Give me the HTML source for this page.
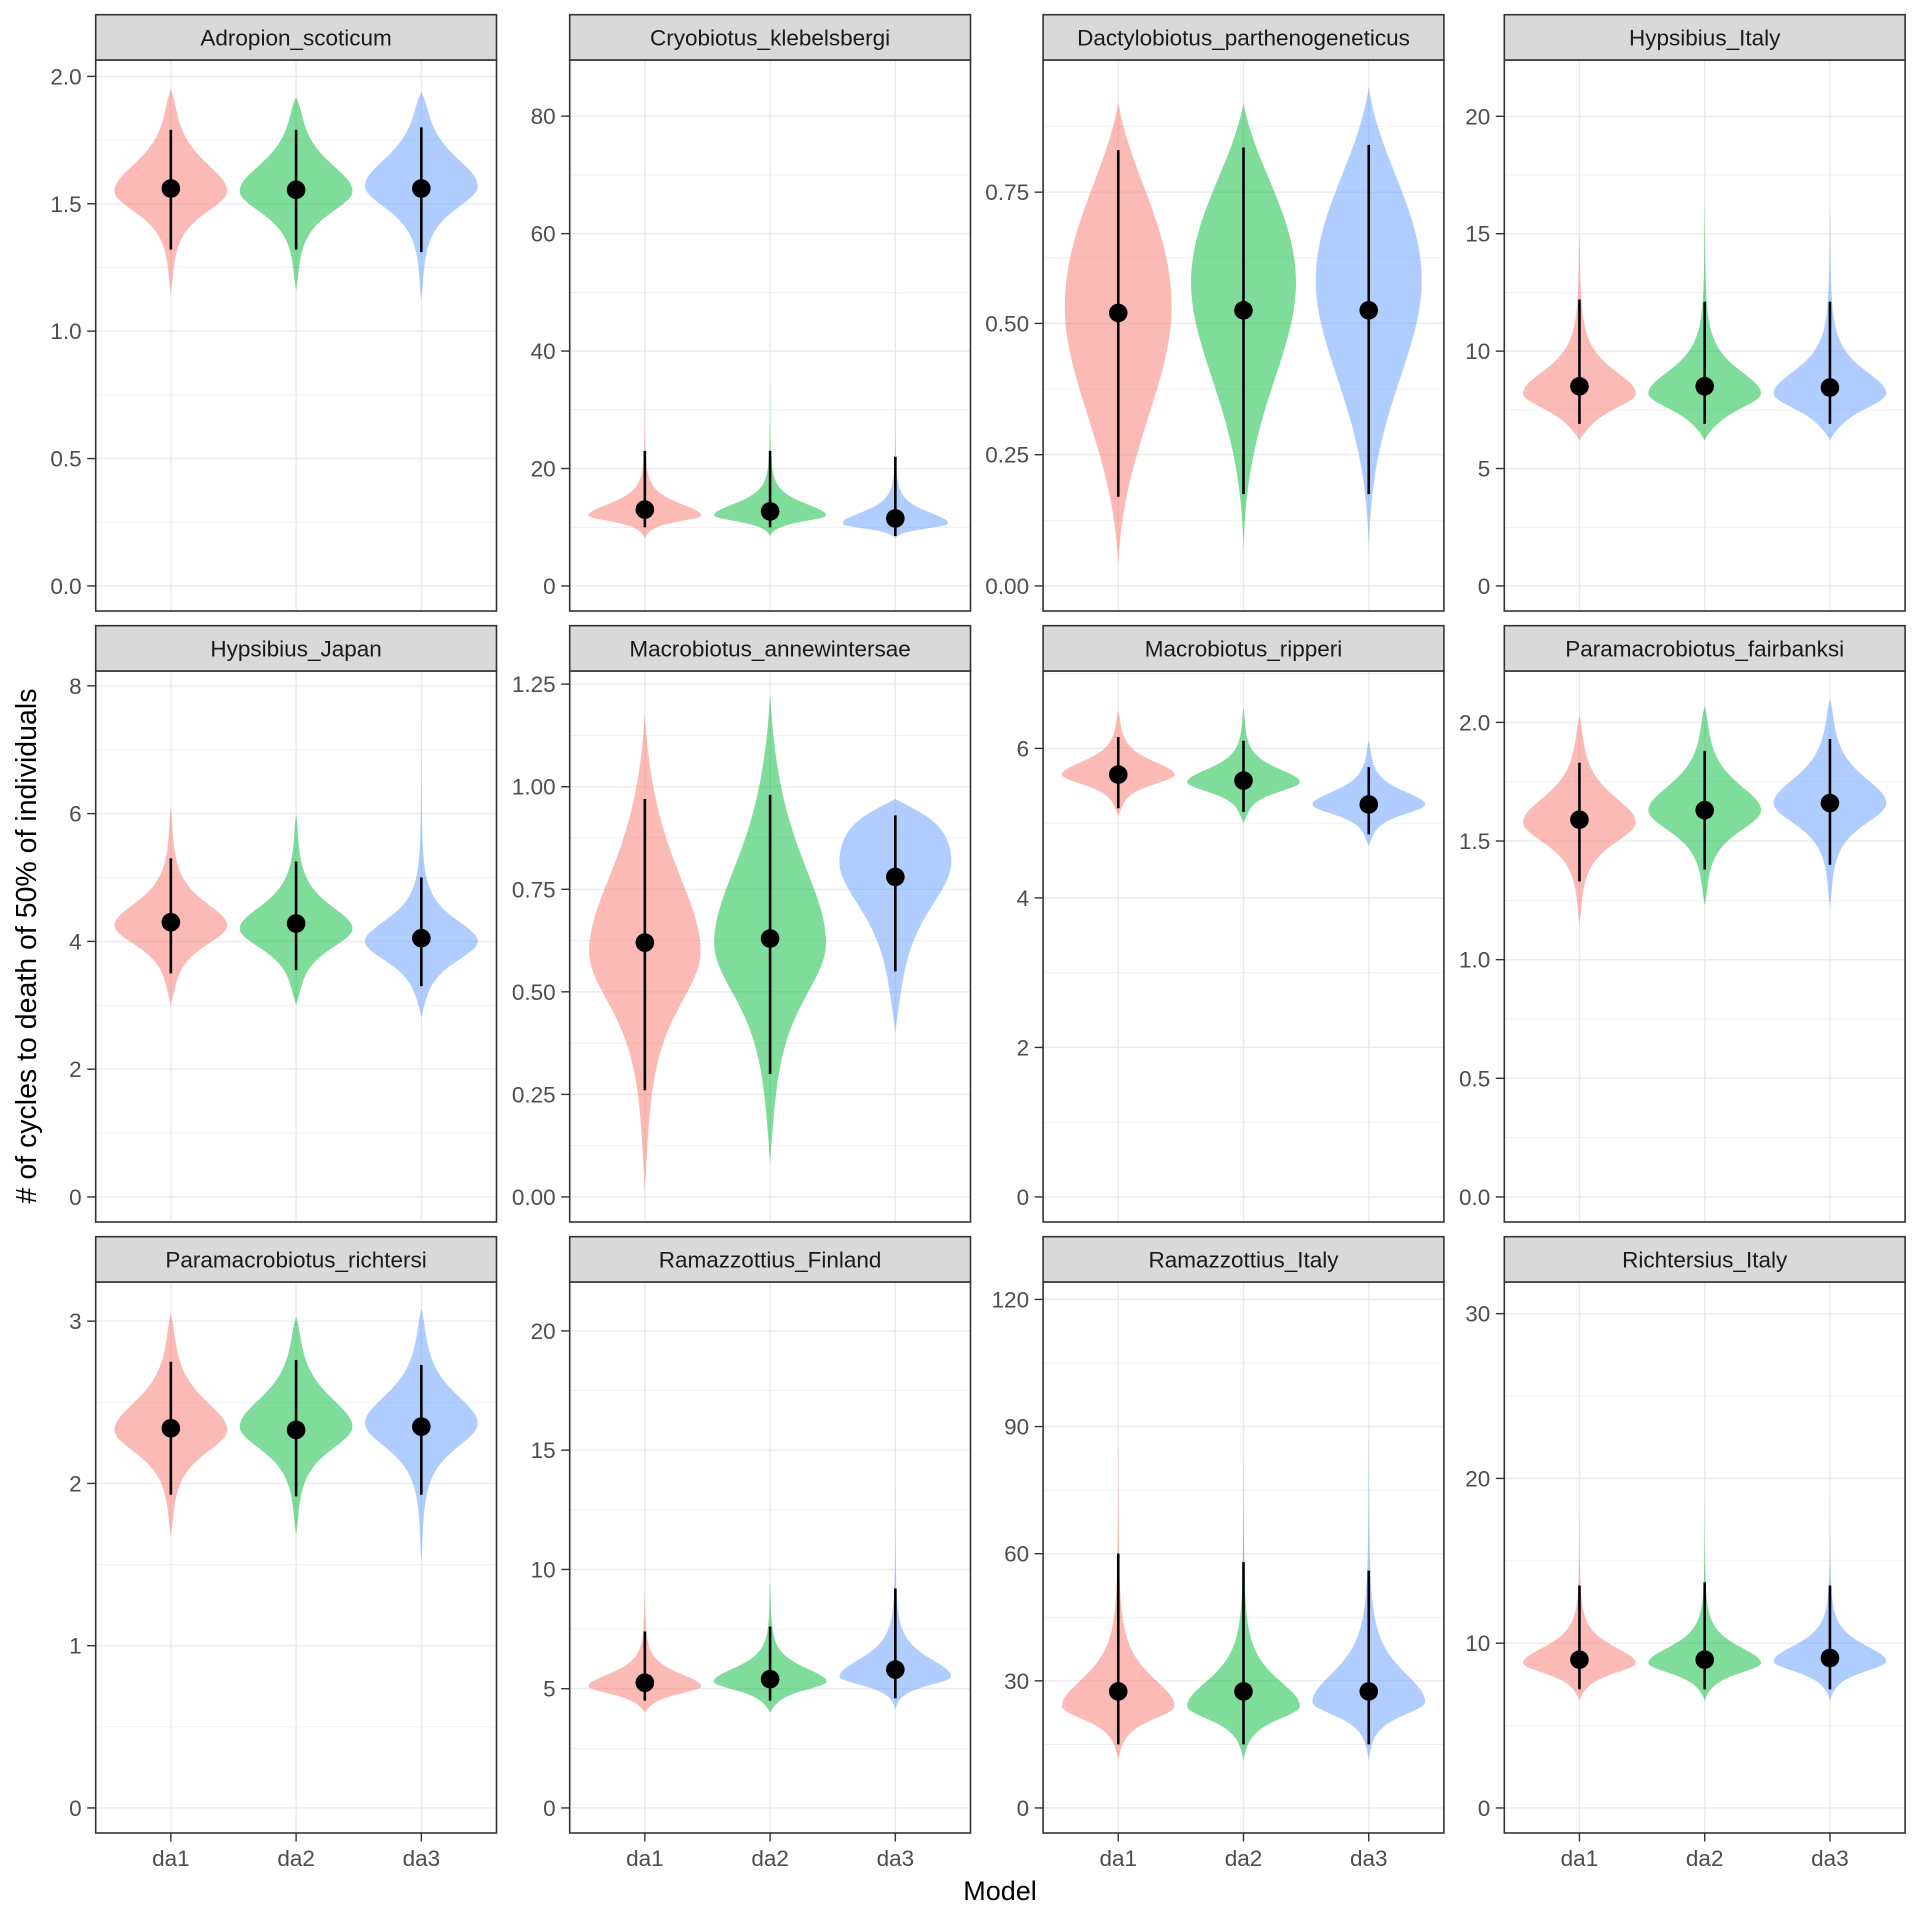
<!DOCTYPE html>
<html><head><meta charset="utf-8"><style>
html,body{margin:0;padding:0;background:#fff}
svg{display:block}
text{font-family:"Liberation Sans",Arial,sans-serif}
</style></head><body>
<svg id="s" width="1920" height="1920" xmlns="http://www.w3.org/2000/svg">
<rect width="1920" height="1920" fill="#fff"/>
<text x="1000" y="1900" font-size="27" text-anchor="middle" fill="#000">Model</text>
<text transform="translate(36,946) rotate(-90)" font-size="28.5" text-anchor="middle" fill="#000"># of cycles to death of 50% of individuals</text>
</svg>
<script>
var NS="http://www.w3.org/2000/svg",S=document.getElementById('s');
function el(t,a,txt){var e=document.createElementNS(NS,t);for(var k in a)e.setAttribute(k,a[k]);if(txt!==undefined)e.textContent=txt;S.appendChild(e);return e;}
var colsX=[95.7,569.7,1043.1,1504.3],W=400.8,H=551,rowsT=[60,671,1282],stripH=45.3,FS=22.5;
var fills=["#F8766D","#00BA38","#619CFF"];
var P=[
["Adropion_scoticum",1.966,[0,0.5,1,1.5,2],["0.0","0.5","1.0","1.5","2.0"],[[1.55,1.15,1.95,0.095,0.125,1.56,1.32,1.79],[1.55,1.16,1.92,0.095,0.12,1.555,1.32,1.79],[1.57,1.12,1.94,0.1,0.125,1.56,1.31,1.8]]],
["Cryobiotus_klebelsbergi",85.3,[0,20,40,60,80],["0","20","40","60","80"],[[12,8,32,1.1,2.3,13,10,23],[12,8.5,35,1.1,2.3,12.7,10,23],[10.5,8,42,0.9,2.2,11.5,8.5,22]]],
["Dactylobiotus_parthenogeneticus",0.954,[0,0.25,0.5,0.75],["0.00","0.25","0.50","0.75"],[[0.55,0.04,0.92,0.22,0.25,0.52,0.17,0.83,20,0.25,0.3],[0.6,0.07,0.92,0.2,0.22,0.525,0.175,0.835,20,0.25,0.3],[0.6,0.07,0.95,0.2,0.22,0.525,0.175,0.84,20,0.25,0.3]]],
["Hypsibius_Italy",21.33,[0,5,10,15,20],["0","5","10","15","20"],[[8.2,6.2,15,0.75,1.1,8.5,6.9,12.2],[8.2,6.2,16.3,0.75,1.1,8.5,6.9,12.1],[8.2,6.2,16.3,0.75,1.1,8.45,6.9,12.1]]],
["Hypsibius_Japan",7.84,[0,2,4,6,8],["0","2","4","6","8"],[[4.25,3.0,6.1,0.35,0.4,4.3,3.5,5.3],[4.2,3.0,6.0,0.35,0.4,4.28,3.55,5.25],[4.0,2.8,7.5,0.35,0.38,4.05,3.3,5.0]]],
["Macrobiotus_annewintersae",1.221,[0,0.25,0.5,0.75,1,1.25],["0.00","0.25","0.50","0.75","1.00","1.25"],[[0.6,0.01,1.18,0.15,0.22,0.62,0.26,0.97,3,0.1,0.25],[0.62,0.08,1.23,0.15,0.22,0.63,0.3,0.98,3,0.1,0.25],[0.82,0.4,0.97,0.13,0.2,0.78,0.55,0.93,3,0.15,0.12]]],
["Macrobiotus_ripperi",6.70,[0,2,4,6],["0","2","4","6"],[[5.65,5.1,6.5,0.15,0.2,5.65,5.2,6.15],[5.55,5.0,6.55,0.15,0.2,5.57,5.15,6.1],[5.25,4.7,6.1,0.15,0.2,5.25,4.85,5.75]]],
["Paramacrobiotus_fairbanksi",2.111,[0,0.5,1,1.5,2],["0.0","0.5","1.0","1.5","2.0"],[[1.58,1.15,2.03,0.1,0.12,1.59,1.33,1.83],[1.63,1.23,2.07,0.1,0.12,1.63,1.38,1.88],[1.66,1.22,2.1,0.1,0.12,1.66,1.4,1.93]]],
["Paramacrobiotus_richtersi",3.087,[0,1,2,3],["0","1","2","3"],[[2.33,1.68,3.05,0.16,0.2,2.34,1.93,2.75],[2.35,1.68,3.03,0.16,0.2,2.33,1.92,2.76],[2.37,1.52,3.08,0.17,0.2,2.35,1.93,2.73]]],
["Ramazzottius_Finland",21.0,[0,5,10,15,20],["0","5","10","15","20"],[[5.1,4.0,9.2,0.35,0.6,5.25,4.5,7.4],[5.3,4.0,9.5,0.4,0.65,5.4,4.5,7.6],[5.5,4.1,15.8,0.4,0.85,5.8,4.6,9.2]]],
["Ramazzottius_Italy",118.2,[0,30,60,90,120],["0","30","60","90","120"],[[24,11,88,3.5,7.5,27.5,15,60],[24,11,83,3.5,7,27.5,15,58],[25,11,88,3.5,8,27.5,15,56]]],
["Richtersius_Italy",30.4,[0,10,20,30],["0","10","20","30"],[[8.8,6.5,18,0.7,1.1,9,7.2,13.5],[8.8,6.5,19,0.7,1.1,9,7.2,13.7],[8.9,6.5,20,0.7,1.1,9.1,7.2,13.5]]]
];
P.forEach(function(p,i){
  var c=i%4,r=Math.floor(i/4),x0=colsX[c],y0=rowsT[r],M=p[1];
  var zero=y0+H-25.05,sc=(H-50.1)/M;
  function Y(v){return zero-v*sc;}
  var step=W/3.2;function X(k){return x0+step*(0.6+k);}
  var t=p[2],d=t[1]-t[0];
  for(var j=-1;j<t.length;j++){
    var yy=Y(t[0]+d*(j+0.5));
    if(yy>y0&&yy<y0+H)el('line',{x1:x0,x2:x0+W,y1:yy,y2:yy,stroke:'#EBEBEB','stroke-width':0.7});
  }
  t.forEach(function(v,j){var yy=Y(v);
    el('line',{x1:x0,x2:x0+W,y1:yy,y2:yy,stroke:'#EBEBEB','stroke-width':1.4});
    el('line',{x1:x0-8.5,x2:x0,y1:yy,y2:yy,stroke:'#333','stroke-width':1.4});
    el('text',{x:x0-14,y:yy+8,'font-size':FS,'text-anchor':'end',fill:'#4D4D4D'},p[3][j]);
  });
  for(var k=0;k<3;k++)el('line',{x1:X(k),x2:X(k),y1:y0,y2:y0+H,stroke:'#EBEBEB','stroke-width':1.4});
  p[4].forEach(function(v,k){
    var m=v[0],lo=v[1],hi=v[2],sL=v[3],sU=v[4],nu=v[8]||3,tl=v[9]||0.06,th=v[10]||0.06,cx=X(k),hw=step*0.45;
    function f(u){var s=u<m?sL:sU,z=(u-m)/s;var g=Math.pow(1+z*z/nu,-(nu+1)/2);
      var a=Math.max(0,(u-lo)/(tl*(hi-lo))),b=Math.max(0,(hi-u)/(th*(hi-lo)));
      g*=Math.tanh(1.3*a)/Math.tanh(1.3*Math.max(1e-9,99))*Math.tanh(1.3*b);return g;}
    var N=220,L=[],R=[];
    for(var n=0;n<=N;n++){var u=lo+(hi-lo)*n/N,w=hw*f(u),yy=Y(u);R.push((cx+w).toFixed(2)+','+yy.toFixed(2));L.unshift((cx-w).toFixed(2)+','+yy.toFixed(2));}
    el('path',{d:'M'+R.join('L')+'L'+L.join('L')+'Z',fill:fills[k],'fill-opacity':0.5});
    el('line',{x1:cx,x2:cx,y1:Y(v[6]),y2:Y(v[7]),stroke:'#000','stroke-width':2.6});
    el('circle',{cx:cx,cy:Y(v[5]),r:9.3,fill:'#000'});
  });
  el('rect',{x:x0,y:y0,width:W,height:H,fill:'none',stroke:'#333','stroke-width':1.6});
  el('rect',{x:x0,y:y0-stripH,width:W,height:stripH,fill:'#D9D9D9',stroke:'#333','stroke-width':1.6});
  el('text',{x:x0+W/2,y:y0-stripH/2+8,'font-size':FS,'text-anchor':'middle',fill:'#1A1A1A'},p[0]);
  if(r==2){for(var k2=0;k2<3;k2++){
    el('line',{x1:X(k2),x2:X(k2),y1:y0+H,y2:y0+H+8.5,stroke:'#333','stroke-width':1.4});
    el('text',{x:X(k2),y:1866,'font-size':FS,'text-anchor':'middle',fill:'#4D4D4D'},'da'+(k2+1));}}
});
</script>
</body></html>
